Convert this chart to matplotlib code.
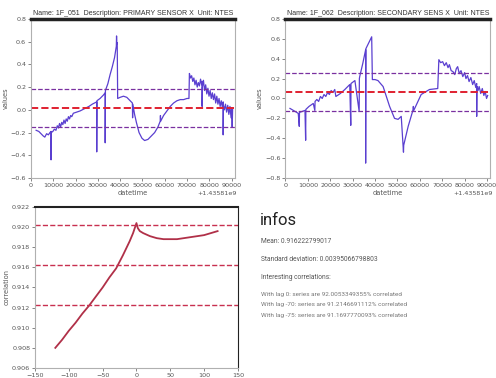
import matplotlib
matplotlib.use("Agg")
import matplotlib.pyplot as plt

# series 1F_051, (seconds after 1.43581e9, value)
s1_pts = [(2300, -0.18), (3500, -0.19), (4500, -0.21), (5500, -0.23), (6200, -0.24),
          (7000, -0.21), (7800, -0.22), (8500, -0.20), (9000, -0.19), (9000, -0.44),
          (9100, -0.20), (9800, -0.19), (10500, -0.17), (11200, -0.18), (11800, -0.14),
          (12300, -0.16), (12800, -0.12), (13300, -0.15), (13800, -0.11), (14300, -0.13),
          (14800, -0.09), (15300, -0.12), (15800, -0.08), (16300, -0.10), (16800, -0.06),
          (17300, -0.08), (17800, -0.05), (18300, -0.06), (19000, -0.03), (20500, -0.02),
          (22000, -0.01), (24000, 0.01), (26000, 0.03), (27500, 0.05), (29500, 0.07),
          (29500, -0.37), (29600, 0.08), (31000, 0.10), (32500, 0.13), (33300, 0.15),
          (33300, -0.29), (33400, 0.17), (34500, 0.23), (35500, 0.31), (36500, 0.38),
          (37500, 0.46), (38300, 0.56), (38400, 0.65), (38500, 0.58), (38700, 0.59),
          (38900, 0.10), (40000, 0.11), (41500, 0.12), (43000, 0.11), (44500, 0.08),
          (45500, 0.06), (45600, -0.07), (45700, 0.05), (46500, -0.04), (47300, -0.11),
          (48500, -0.20), (49800, -0.25), (51000, -0.27), (52500, -0.26), (54000, -0.23),
          (55500, -0.20), (57000, -0.15), (58000, -0.10), (58100, -0.05), (58200, -0.10),
          (59500, -0.05), (61000, -0.01), (62500, 0.03), (64000, 0.06), (65500, 0.08),
          (67000, 0.09), (68500, 0.09), (70000, 0.10), (70900, 0.10), (71100, 0.32),
          (71600, 0.28), (72100, 0.30), (72600, 0.25), (73100, 0.28), (73600, 0.22),
          (74100, 0.26), (74600, 0.20), (75100, 0.24), (75600, 0.21), (76100, 0.27),
          (76600, 0.22), (76800, 0.25), (76800, 0.03), (76900, 0.20), (77400, 0.26),
          (77900, 0.17), (78400, 0.22), (78900, 0.14), (79400, 0.19), (79900, 0.12),
          (80400, 0.17), (80900, 0.10), (81400, 0.15), (81900, 0.09), (82400, 0.14),
          (82900, 0.06), (83400, 0.12), (83900, 0.05), (84400, 0.10), (84900, 0.03),
          (85400, 0.08), (85900, 0.02), (86250, 0.07), (86250, -0.22), (86350, 0.04),
          (86800, 0.00), (87300, 0.05), (87800, -0.02), (88300, 0.04), (88800, -0.04),
          (89300, 0.03), (89800, -0.07), (90100, 0.02), (90300, -0.15), (90500, 0.01)]
s1_lines = [0.181, 0.014, -0.153]

# series 1F_062
s2_pts = [(2000, -0.10), (3500, -0.12), (5000, -0.14), (5700, -0.15), (6150, -0.28),
          (6250, -0.14), (7500, -0.13), (8700, -0.12), (9000, -0.42), (9100, -0.11),
          (10500, -0.08), (12400, -0.05), (13100, -0.12), (13200, -0.03), (14000, -0.01),
          (14800, -0.03), (15600, 0.02), (16400, 0.00), (17200, 0.04), (18000, 0.02),
          (18800, 0.06), (19600, 0.04), (20400, 0.08), (21200, 0.06), (22000, 0.09),
          (22500, 0.02), (24500, 0.05), (26500, 0.09), (28700, 0.14), (29150, -0.27),
          (29250, 0.15), (31000, 0.18), (32900, -0.13), (33000, 0.20), (33150, 0.22),
          (34500, 0.35), (35800, 0.49), (35800, -0.65), (35900, 0.50), (37200, 0.56),
          (38500, 0.62), (38800, 0.19), (40000, 0.19), (41300, 0.18), (43600, 0.12),
          (46500, -0.08), (48700, -0.20), (50300, -0.21), (51700, -0.18), (52700, -0.54),
          (52800, -0.47), (54800, -0.28), (56900, -0.12), (57100, -0.08), (57300, -0.12),
          (60600, 0.04), (64300, 0.09), (68000, 0.10), (68500, 0.39), (69300, 0.36),
          (70200, 0.37), (71000, 0.33), (71800, 0.36), (72600, 0.31), (73200, 0.34),
          (74000, 0.28), (74800, 0.27), (75600, 0.24), (76300, 0.30), (76900, 0.32),
          (77600, 0.25), (78400, 0.28), (79200, 0.22), (80000, 0.26), (80600, 0.20),
          (81300, 0.23), (82000, 0.17), (82800, 0.21), (83600, 0.14), (84300, 0.18),
          (85000, 0.11), (85400, 0.15), (85400, -0.18), (85500, 0.12), (86000, 0.08),
          (86500, 0.12), (87200, 0.05), (87900, 0.10), (88600, 0.03), (89200, 0.07),
          (89800, 0.00), (90300, 0.03)]
s2_lines = [0.255, 0.067, -0.121]

# cross correlation by lag
lags = [-120, -110, -100, -90, -80, -70, -60, -50, -40, -30, -20, -10, -5, 0,
        2, 5, 10, 20, 30, 40, 50, 60, 70, 80, 90, 100, 110, 120]
corr = [0.9080, 0.9088, 0.9097, 0.9105, 0.9114, 0.9122, 0.9131, 0.9140, 0.9150, 0.9159,
        0.9172, 0.9186, 0.9194, 0.9204, 0.9199, 0.9196, 0.9194, 0.9191, 0.9189, 0.9188,
        0.9188, 0.9188, 0.9189, 0.9190, 0.9191, 0.9192, 0.9194, 0.9196]
mean = 0.916222799017
std = 0.00395066798803

info_lines = ["Mean: 0.916222799017",
              "Standard deviation: 0.00395066798803",
              "Interesting correlations:"]
corr_lines = ["With lag 0: series are 92.0053349355% correlated",
              "With lag -70: series are 91.2146691112% correlated",
              "With lag -75: series are 91.1697770093% correlated"]

line_col = "#5a3fd0"
tick_col = "#555555"

fig = plt.figure(figsize=(4.96, 3.78), dpi=100)


def style(ax):
    for side in ["left", "right", "bottom"]:
        ax.spines[side].set_color("#b0b0b0")
        ax.spines[side].set_linewidth(0.8)
    ax.spines["top"].set_color("#222222")
    ax.spines["top"].set_linewidth(2.5)
    ax.tick_params(labelsize=4.6, colors=tick_col, length=2, width=0.5, pad=1.5)


def sensor(ax, pts, lines, ylim, title):
    x = [p[0] for p in pts]
    y = [p[1] for p in pts]
    ax.plot(x, y, color=line_col, lw=0.9)
    ax.axhline(lines[0], color="#7a30a0", ls="--", lw=0.9)
    ax.axhline(lines[1], color="#e02030", ls="--", lw=1.4)
    ax.axhline(lines[2], color="#7a30a0", ls="--", lw=0.9)
    ax.set_xlim(0, 91500)
    ax.set_ylim(*ylim)
    ax.set_xticks(range(0, 100000, 10000))
    ax.text(1.01, -0.08, "+1.43581e9", transform=ax.transAxes, ha="right", va="top",
            fontsize=4.6, color=tick_col)
    ax.set_xlabel("datetime", fontsize=4.8, color=tick_col, labelpad=1.5)
    ax.set_ylabel("values", fontsize=4.8, color=tick_col)
    ax.yaxis.set_label_coords(-0.11, 0.5)
    ax.set_title(title, fontsize=5, color="#333333", pad=2.5, family="Liberation Sans")
    style(ax)


ax1 = fig.add_axes([0.0625, 0.529, 0.411, 0.421])
sensor(ax1, s1_pts, s1_lines, (-0.6, 0.8),
       "Name: 1F_051  Description: PRIMARY SENSOR X  Unit: NTES")
ax1.set_yticks([-0.6, -0.4, -0.2, 0.0, 0.2, 0.4, 0.6, 0.8])

ax2 = fig.add_axes([0.5756, 0.529, 0.413, 0.421])
sensor(ax2, s2_pts, s2_lines, (-0.8, 0.8),
       "Name: 1F_062  Description: SECONDARY SENS X  Unit: NTES")
ax2.set_yticks([-0.8, -0.6, -0.4, -0.2, 0.0, 0.2, 0.4, 0.6, 0.8])

ax3 = fig.add_axes([0.0706, 0.0265, 0.409, 0.426])
ax3.plot(lags, corr, color="#b03048", lw=1.3)
for v in [mean + std, mean, mean - std]:
    ax3.axhline(v, color="#c83050", ls="--", lw=1.0)
ax3.set_xlim(-150, 150)
ax3.set_ylim(0.906, 0.922)
ax3.set_yticks([0.906, 0.908, 0.910, 0.912, 0.914, 0.916, 0.918, 0.920, 0.922])
ax3.set_yticklabels(["%.3f" % t for t in ax3.get_yticks()])
ax3.set_xticks([-150, -100, -50, 0, 50, 100, 150])
ax3.set_ylabel("correlation", fontsize=4.8, color=tick_col)
ax3.yaxis.set_label_coords(-0.125, 0.5)
ax3.set_xlabel("lag (seconds)", fontsize=4.8, color=tick_col, labelpad=1)
style(ax3)
ax3.spines["top"].set_linewidth(1.5)
ax3.spines["right"].set_color("#222222")

fig.text(0.524, 0.405, "infos", fontsize=12, color="#222222", family="Roboto")
ys = [0.358, 0.310, 0.262]
for t, yy in zip(info_lines, ys):
    fig.text(0.526, yy, t, fontsize=4.8, color="#555555", family="Roboto")
for i, t in enumerate(corr_lines):
    fig.text(0.526, 0.218 - i * 0.028, t, fontsize=4.6, color="#777777", family="Roboto")

fig.savefig("out.png", dpi=100)
